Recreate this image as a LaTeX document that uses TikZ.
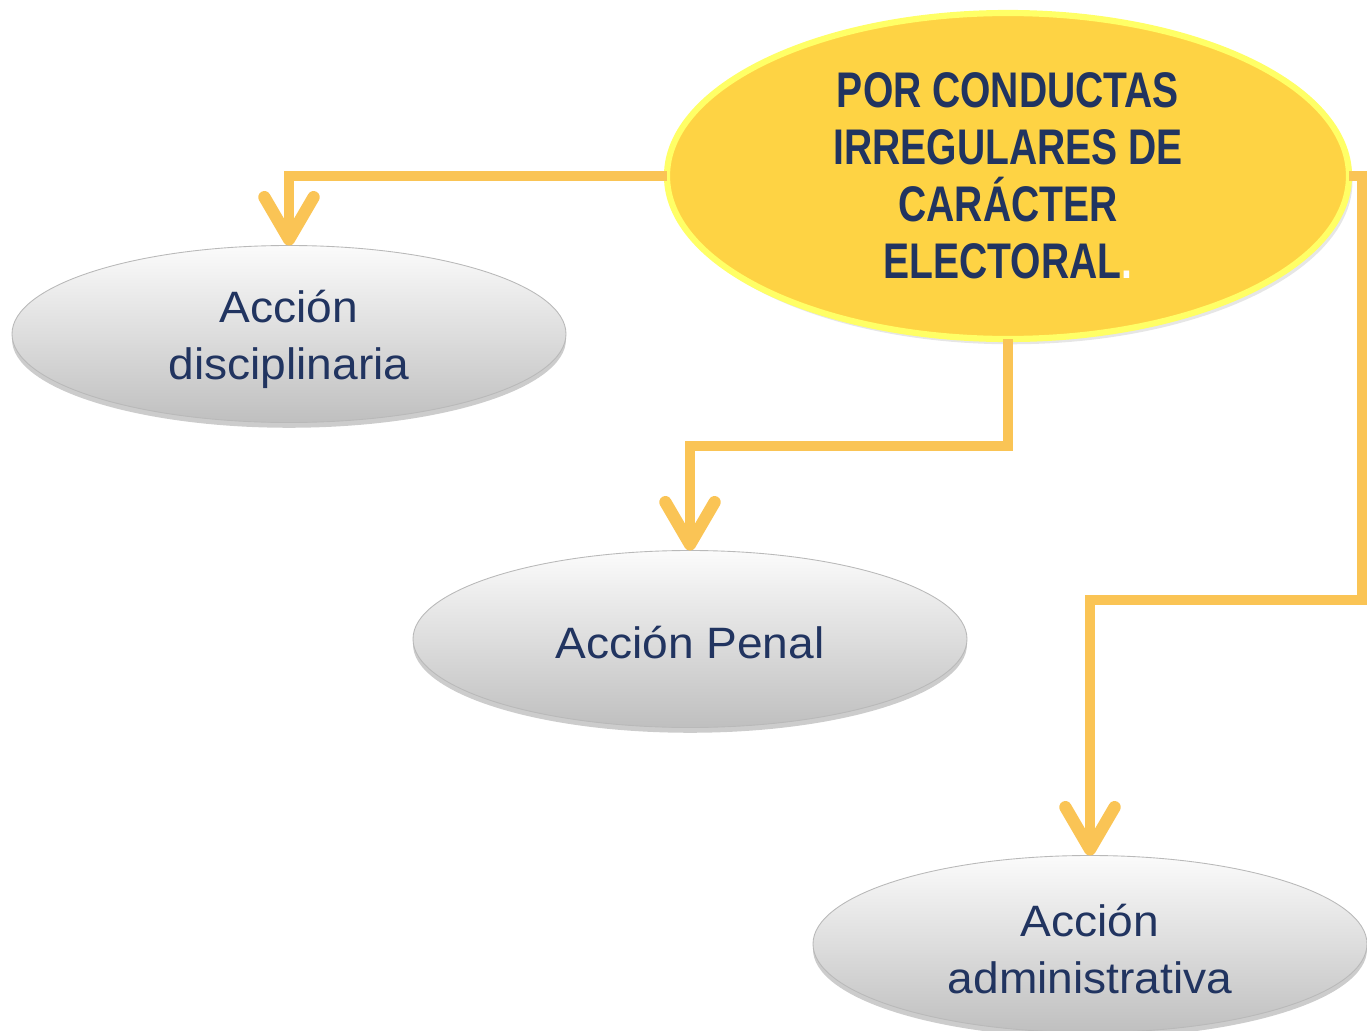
\documentclass[tikz,border=0pt]{standalone}
\usepackage{fontspec}
\setmainfont{Liberation Sans}
\newfontfamily\topfont[FakeStretch=0.78]{Liberation Sans}
\newfontfamily\actfont[FakeStretch=1.05]{Liberation Sans}
\usetikzlibrary{shapes.geometric,arrows.meta,shadows,calc}
\definecolor{navy}{RGB}{33,52,96}
\definecolor{connc}{RGB}{250,196,85}
\definecolor{topfill}{RGB}{254,211,68}
\definecolor{topline}{RGB}{255,255,102}
\tikzset{
  conn/.style={draw=connc, line width=5.7pt, line join=miter,
    -{Straight Barb[round,length=24pt,width=28pt,line width=7pt]}},
  topnode/.style={ellipse, minimum width=682*0.02cm, minimum height=326*0.02cm,
    inner sep=0pt, outer sep=0pt, fill=topfill, draw=topline, line width=3.5pt,
    drop shadow={opacity=0.2, shadow xshift=2pt, shadow yshift=-3pt},
    text=navy, align=center, font=\topfont\bfseries\fontsize{28.5}{32.4}\selectfont},
  actnode/.style={ellipse, minimum width=554*0.02cm, minimum height=177*0.02cm,
    inner sep=0pt, outer sep=0pt, draw=gray!55, line width=0.5pt,
    top color=white!97!gray, middle color=white!92!gray, bottom color=gray!50,
    drop shadow={opacity=0.4, shadow xshift=0pt, shadow yshift=-3pt},
    text=navy, align=center, font=\actfont\fontsize{25}{32.4}\selectfont}
}
\begin{document}
\begin{tikzpicture}[x=0.02cm,y=-0.02cm]
\useasboundingbox (0,0) rectangle (1367,1031);
\node[topnode] (top) at (1008,176) {POR CONDUCTAS\\IRREGULARES DE\\CARÁCTER\\ELECTORAL{\color{white}.}};
\node[actnode] (disc) at (289,334) {};
\node[navy, align=center, font=\actfont\fontsize{25}{32.4}\selectfont] (disct) at (289,339) {Acción\\disciplinaria};
\node[actnode] (penal) at (690,639) {};
\node[navy, align=center, font=\actfont\fontsize{25}{32.4}\selectfont] (penalt) at (690,643) {Acción Penal};
\node[actnode] (adm) at (1090,944) {};
\node[navy, align=center, font=\actfont\fontsize{25}{32.4}\selectfont] (admt) at (1090,949) {Acción\\administrativa};
\coordinate (rc) at (1362,600);
\coordinate (mc) at (690,446);
\draw[conn] (top.west) -| (disc.north);
\draw[conn] (top.south) |- (mc) -- (penal.north);
\draw[conn] (top.east) -| (rc) -| (adm.north);
\end{tikzpicture}
\end{document}
